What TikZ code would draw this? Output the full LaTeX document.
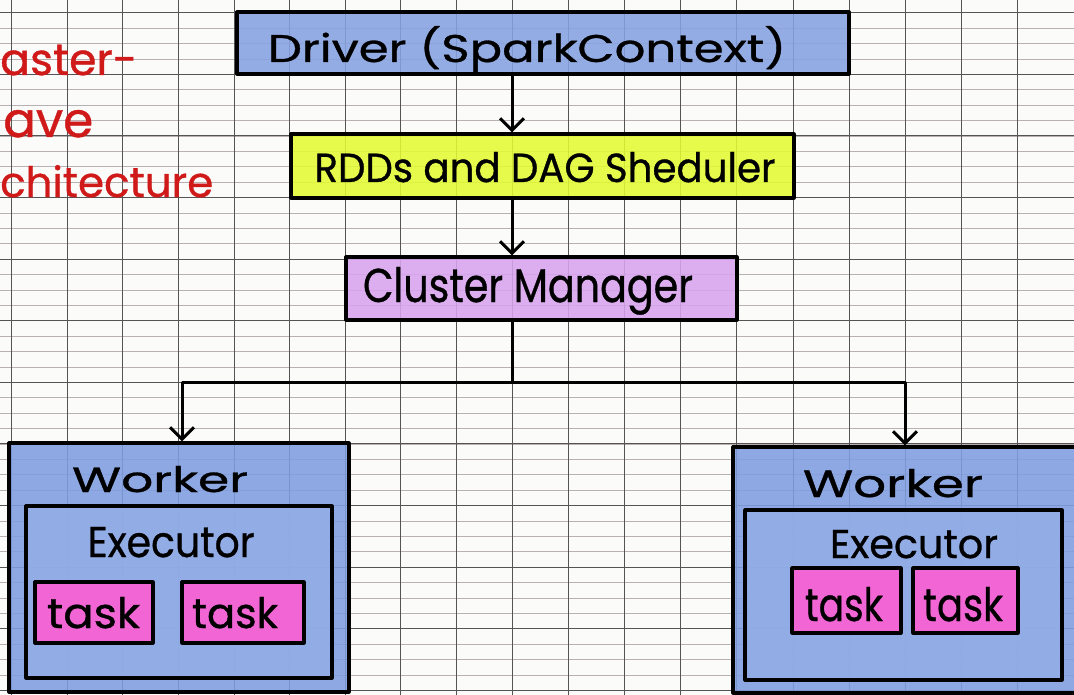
\documentclass[tikz,border=0pt]{standalone}
\usepackage{fontspec}
\setmainfont{Poppins}[FakeBold=0.8]
\usetikzlibrary{arrows.meta}
\definecolor{paper}{HTML}{FBFBFA}
\definecolor{majorline}{HTML}{545454}
\definecolor{minorline}{HTML}{B8B0B2}
\definecolor{wblue}{HTML}{7F9DE0}
\definecolor{dblue}{HTML}{86A2E2}
\definecolor{eblue}{HTML}{93AEE6}
\definecolor{ylw}{HTML}{E2FA32}
\definecolor{lav}{HTML}{D8A4EE}
\definecolor{pnk}{HTML}{FF5CD2}
\definecolor{redink}{HTML}{D01A1A}
\newcommand\fitt[3]{\resizebox{#1pt}{#2pt}{#3}}
\newcommand\fitw[2]{\resizebox{#1pt}{!}{#2}}
\begin{document}
\begin{tikzpicture}[x=1pt,y=-1pt,
  box/.style={draw=black, line width=3.2pt, fill opacity=0.88, inner sep=0pt, line join=round},
  lbl/.style={inner sep=0pt, anchor=base, text=black},
  redlbl/.style={inner sep=0pt, anchor=base west, text=redink},
  arr/.style={line width=3pt, -{Straight Barb[length=12pt,width=24pt,line width=3pt]}},
  majg/.style={draw=majorline, line width=1.1pt},
  ming/.style={draw=minorline, line width=0.6pt}]

\fill[paper] (0,0) rectangle (1074,695);
\useasboundingbox (0,0) rectangle (1074,695);
\clip (0,0) rectangle (1074,695);

% grid paper
\foreach \j in {-1,...,45} { \draw[ming] (0,{12.7+15.4*\j}) -- (1074,{12.7+15.4*\j}); }
\foreach \j in {0,...,11} { \draw[majg] (0,{12.7+61.6*\j}) -- (1074,{12.7+61.6*\j}); }
\foreach \k in {0,...,9} { \draw[majg] ({11.7+55.6*\k},0) -- ({11.7+55.6*\k},695); }
\foreach \k in {10,...,18} { \draw[majg] ({512.1+56.2*(\k-9)},0) -- ({512.1+56.2*(\k-9)},695); }

% side title
\node[redlbl] (t1) at (0,75) {\fitw{137}{aster-}};
\node[redlbl] (t2) at (3,137) {\fitw{90}{ave}};
\node[redlbl] (t3) at (0,197) {\fitw{213}{chitecture}};

% main boxes
\node[box, fill=dblue, minimum width=612pt, minimum height=62pt] (driver) at (543,43) {};
\node[box, fill=ylw, minimum width=503pt, minimum height=64pt] (rdd) at (542.5,166) {};
\node[box, fill=lav, minimum width=391pt, minimum height=63pt] (cm) at (541.5,288.5) {};

\node[lbl] (driverT) at (527,62) {\fitt{518}{36}{Driver (SparkContext)}};
\node[lbl] (rddT) at (545,182) {\fitt{461}{30}{RDDs and DAG Sheduler}};
\node[lbl] (cmT) at (528,302) {\fitt{330}{35}{Cluster Manager}};

% left worker
\node[box, fill=wblue, minimum width=340pt, minimum height=249pt] (lw) at (179,567.5) {};
\node[box, fill=eblue, minimum width=306pt, minimum height=172pt] (le) at (179,592) {};
\node[box, fill=pnk, minimum width=118pt, minimum height=61pt] (lt1) at (94,612.5) {};
\node[box, fill=pnk, minimum width=122pt, minimum height=61pt] (lt2) at (243,612.5) {};
\node[lbl] (lwT) at (160,492) {\fitt{176}{26}{Worker}};
\node[lbl] (leT) at (171,557) {\fitt{167}{30}{Executor}};
\node[lbl] (lt1T) at (93.5,628) {\fitt{93}{31}{task}};
\node[lbl] (lt2T) at (235,628) {\fitt{86}{31}{task}};

% right worker
\node[box, fill=wblue, minimum width=357pt, minimum height=246pt] (rw) at (911.5,570) {};
\node[box, fill=eblue, minimum width=317pt, minimum height=170pt] (re) at (903.5,595) {};
\node[box, fill=pnk, minimum width=109pt, minimum height=65pt] (rt1) at (846.5,600.5) {};
\node[box, fill=pnk, minimum width=105pt, minimum height=65pt] (rt2) at (965.5,600.5) {};
\node[lbl] (rwT) at (893,497) {\fitt{180}{28}{Worker}};
\node[lbl] (reT) at (914,558) {\fitt{168}{28}{Executor}};
\node[lbl] (rt1T) at (844,621) {\fitt{78}{34}{task}};
\node[lbl] (rt2T) at (963,621) {\fitt{80}{34}{task}};

% connectors
\coordinate (ax) at (512,0);
\coordinate (jL) at (182,382);
\coordinate (jR) at (905,382);
\draw[arr] (driver.south -| ax) -- (rdd.north -| ax);
\draw[arr] (rdd.south -| ax) -- (cm.north -| ax);
\draw[arr, line join=round] (cm.south -| ax) |- (jL) -- (lw.north -| jL);
\draw[arr, line join=round] (cm.south -| ax) |- (jR) -- (rw.north -| jR);
\end{tikzpicture}
\end{document}
